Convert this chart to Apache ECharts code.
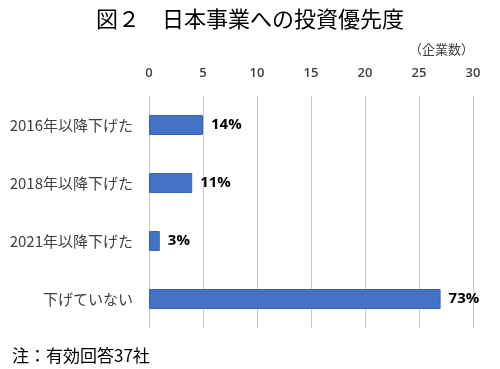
<!DOCTYPE html>
<html><head><meta charset="utf-8">
<script src="https://cdn.jsdelivr.net/npm/echarts@6/dist/echarts.min.js"></script>
<style>html,body{margin:0;padding:0;background:#fff}#c{width:500px;height:369px}</style>
</head><body><div id="c"></div>
<script>
const categories = ["2016年以降下げた", "2018年以降下げた", "2021年以降下げた", "下げていない"];
const counts = [5, 4, 1, 27];
const pctLabels = ["14%", "11%", "3%", "73%"];
const xTicks = [0, 5, 10, 15, 20, 25, 30];

const chart = echarts.init(document.getElementById('c'));
chart.setOption({
  animation: false,
  backgroundColor: '#fff',
  title: [{
    text: '図２　日本事業への投資優先度',
    left: 'center', top: 3,
    textStyle: {fontFamily: 'Noto Sans CJK JP', fontSize: 22, fontWeight: 'normal', color: '#000'}
  }, {
    text: '注：有効回答37社',
    left: 7, top: 342,
    textStyle: {fontFamily: 'Noto Sans CJK JP', fontSize: 17, fontWeight: 'normal', color: '#000'}
  }, {
    text: '（企業数）',
    right: 21, top: 38,
    textStyle: {fontFamily: 'Noto Sans CJK JP', fontSize: 13, fontWeight: 'normal', color: '#404040'}
  }],
  grid: {left: 149, right: 27, top: 96, bottom: 41, containLabel: false},
  xAxis: {
    type: 'value', position: 'top', min: xTicks[0], max: xTicks[xTicks.length-1], interval: 5,
    axisLine: {show: false}, axisTick: {show: false},
    splitLine: {show: true, lineStyle: {color: '#c8c8c8', width: 1}},
    axisLabel: {margin: 16, color: '#404040', fontSize: 13, fontFamily: 'Open Sans', fontWeight: 600}
  },
  yAxis: {
    type: 'category', data: categories, inverse: true,
    axisLine: {show: false}, axisTick: {show: false},
    axisLabel: {margin: 16, color: '#404040', fontSize: 15, fontFamily: 'Noto Sans CJK JP'}
  },
  series: [{
    type: 'bar', data: counts, barWidth: 20,
    itemStyle: {color: '#4472c4', borderColor: '#3a64b0', borderWidth: 1},
    label: {
      show: true, position: 'right', distance: 8,
      formatter: p => pctLabels[p.dataIndex],
      color: '#000', fontSize: 15, fontWeight: 'bold', fontFamily: 'Open Sans'
    }
  }]
});
</script></body></html>
